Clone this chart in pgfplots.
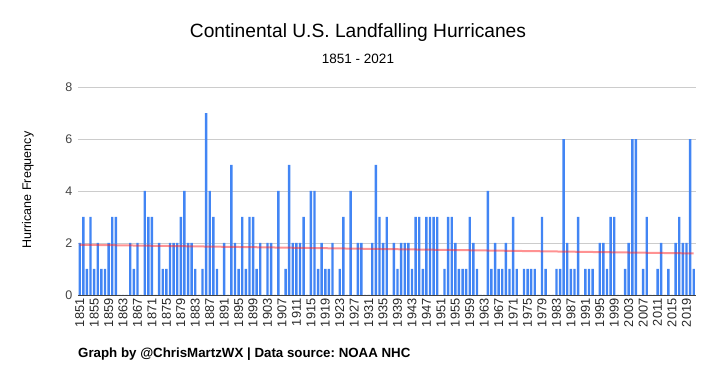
\documentclass[border=0pt]{standalone}
\usepackage{fontspec}
\setmainfont{Liberation Sans}
\usepackage{pgfplots}
\usepackage{pgfplotstable}
\pgfplotsset{compat=1.18}
\frenchspacing
\definecolor{barblue}{HTML}{4285F4}
\definecolor{gridgray}{HTML}{CCCCCC}
\definecolor{ticktext}{HTML}{444444}
\pgfplotstableread{
year n
1851 2
1852 3
1853 1
1854 3
1855 1
1856 2
1857 1
1858 1
1859 2
1860 3
1861 3
1862 0
1863 0
1864 0
1865 2
1866 1
1867 2
1868 0
1869 4
1870 3
1871 3
1872 0
1873 2
1874 1
1875 1
1876 2
1877 2
1878 2
1879 3
1880 4
1881 2
1882 2
1883 1
1884 0
1885 1
1886 7
1887 4
1888 3
1889 1
1890 0
1891 2
1892 0
1893 5
1894 2
1895 1
1896 3
1897 1
1898 3
1899 3
1900 1
1901 2
1902 0
1903 2
1904 2
1905 0
1906 4
1907 0
1908 1
1909 5
1910 2
1911 2
1912 2
1913 3
1914 0
1915 4
1916 4
1917 1
1918 2
1919 1
1920 1
1921 2
1922 0
1923 1
1924 3
1925 0
1926 4
1927 0
1928 2
1929 2
1930 0
1931 0
1932 2
1933 5
1934 3
1935 2
1936 3
1937 0
1938 2
1939 1
1940 2
1941 2
1942 2
1943 1
1944 3
1945 3
1946 1
1947 3
1948 3
1949 3
1950 3
1951 0
1952 1
1953 3
1954 3
1955 2
1956 1
1957 1
1958 1
1959 3
1960 2
1961 1
1962 0
1963 0
1964 4
1965 1
1966 2
1967 1
1968 1
1969 2
1970 1
1971 3
1972 1
1973 0
1974 1
1975 1
1976 1
1977 1
1978 0
1979 3
1980 1
1981 0
1982 0
1983 1
1984 1
1985 6
1986 2
1987 1
1988 1
1989 3
1990 0
1991 1
1992 1
1993 1
1994 0
1995 2
1996 2
1997 1
1998 3
1999 3
2000 0
2001 0
2002 1
2003 2
2004 6
2005 6
2006 0
2007 1
2008 3
2009 0
2010 0
2011 1
2012 2
2013 0
2014 1
2015 0
2016 2
2017 3
2018 2
2019 2
2020 6
2021 1
}\datatable
\begin{document}
\begin{tikzpicture}[x=1pt,y=1pt]
\useasboundingbox (0,0) rectangle (715,380);
\begin{axis}[
  at={(77.9pt,85pt)}, anchor=south west,
  scale only axis, width=617.6pt, height=208pt,
  xmin=1850.5, xmax=2021.5, ymin=0, ymax=8,
  axis line style={draw=none},
  major tick length=0pt,
  ytick={2,4,6,8},
  extra y ticks={0},
  extra y tick style={grid style={draw=black!75, line width=0.9pt}},
  ymajorgrids, grid style={draw=gridgray, line width=0.7pt},
  xtick={1851,1855,...,2019},
  /pgf/number format/assume math mode=true,
  /pgf/number format/1000 sep={},
  xticklabel style={rotate=90, anchor=east, font=\fontsize{12.8}{14}\selectfont, text=black!85},
  yticklabel style={font=\fontsize{12.5}{14}\selectfont, text=ticktext, xshift=-2pt},
  clip=false,
]
\addplot[ybar, bar width=2.4pt, fill=barblue, draw=none] table[x=year, y=n] {\datatable};
\addplot[no marks, draw=red!85, opacity=0.5, line width=2pt] table[x=year, y={create col/linear regression={y=n}}] {\datatable};
\end{axis}
\node at (358,347) {\fontsize{19.2}{22}\selectfont Continental U.S. Landfalling Hurricanes};
\node at (358,321) {\fontsize{13.5}{16}\selectfont 1851 - 2021};
\node[rotate=90] at (28,190) {\fontsize{12.5}{14}\selectfont Hurricane Frequency};
\node[anchor=west, inner sep=0pt] at (78,26) {\fontsize{13.3}{15}\selectfont\bfseries Graph by @ChrisMartzWX | Data source: NOAA NHC};
\end{tikzpicture}
\end{document}
